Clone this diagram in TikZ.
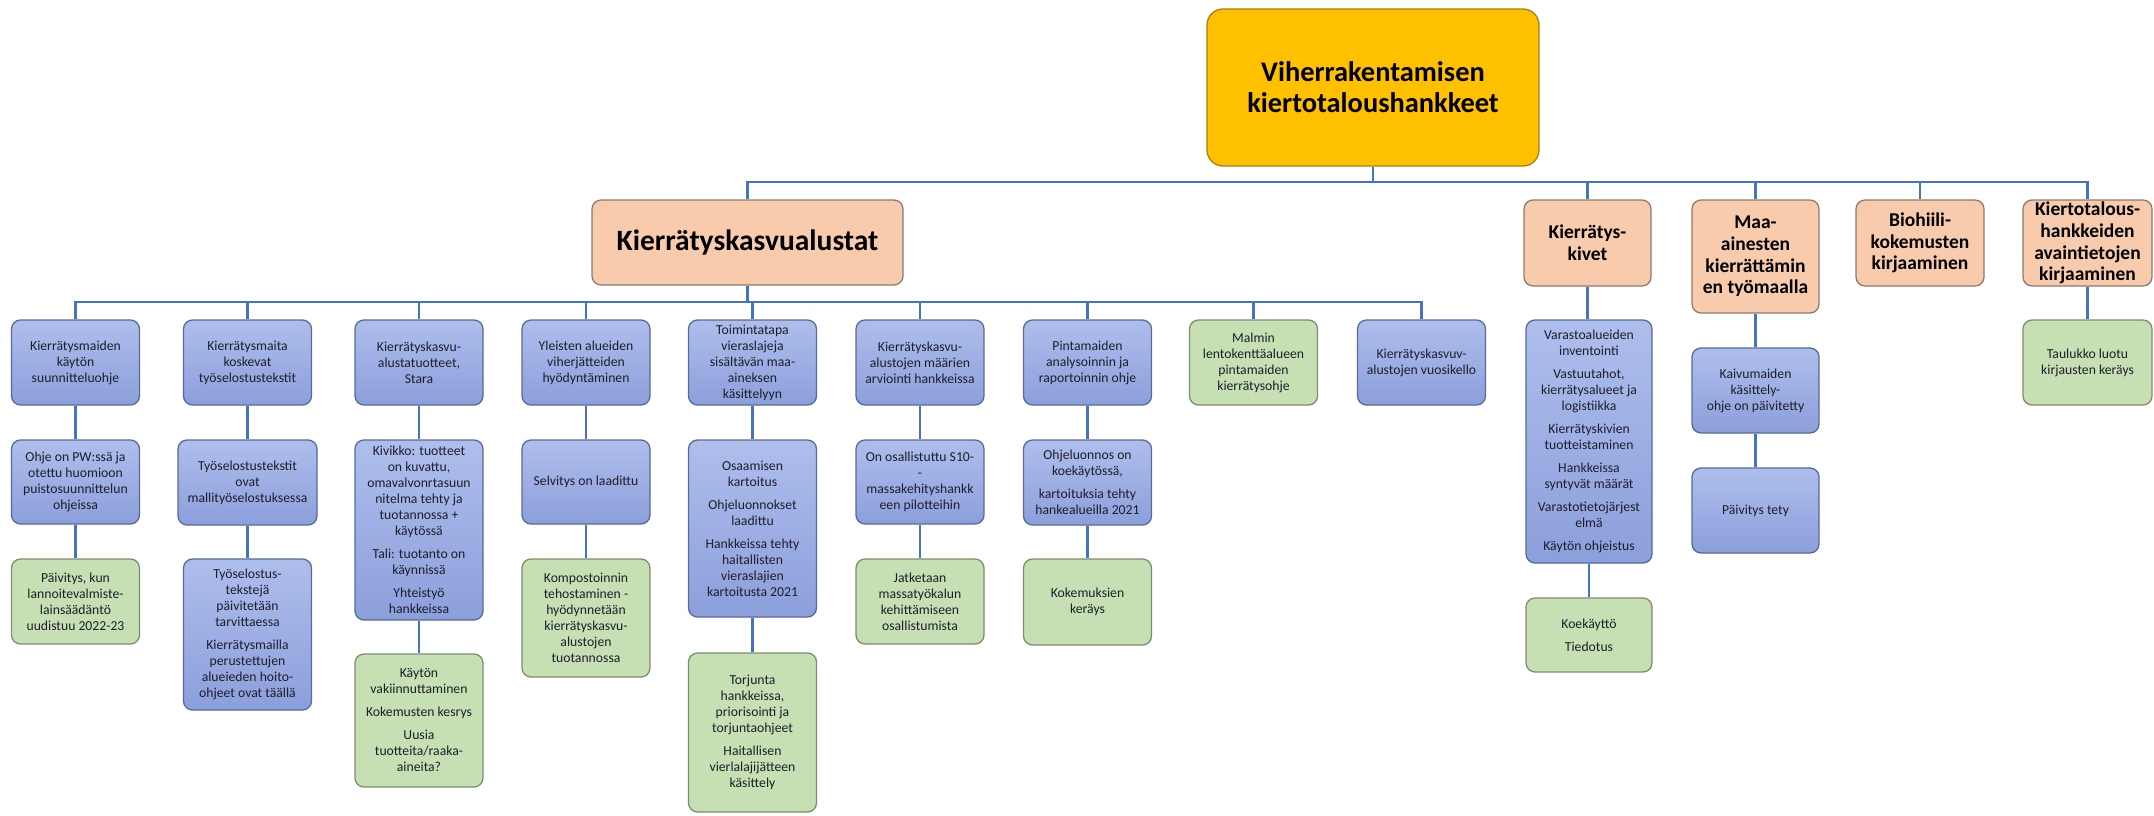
\documentclass[tikz,border=0pt]{standalone}
\usepackage{fontspec}
\setmainfont{Carlito}
\definecolor{connblue}{HTML}{4472C4}
\definecolor{bluetop}{HTML}{AEBEEC}
\definecolor{bluebot}{HTML}{8B9FDB}
\definecolor{blueborder}{HTML}{5A6A96}
\definecolor{greenfill}{HTML}{C6E0B4}
\definecolor{greenborder}{HTML}{7E8C72}
\definecolor{orangefill}{HTML}{F8CBAD}
\definecolor{orangeborder}{HTML}{8E7A6E}
\definecolor{rootfill}{HTML}{FFC000}
\definecolor{rootborder}{HTML}{A88018}
\definecolor{txt}{HTML}{1E1E2A}
\begin{document}
\begin{tikzpicture}[x=1pt,y=-1pt,
  box/.style={draw, rounded corners=9pt, line width=1.3pt, align=center, inner sep=2pt,
    font=\fontsize{13.7}{16}\selectfont, text=txt},
  wh/.style 2 args={minimum width=#1pt, minimum height=#2pt},
  bluebox/.style={box, draw=blueborder, top color=bluetop, bottom color=bluebot},
  greenbox/.style={box, draw=greenborder, fill=greenfill},
  orangebox/.style={box, draw=orangeborder, fill=orangefill, text=black, inner ysep=0pt,
    font=\bfseries\fontsize{19.5}{21.7}\selectfont},
  rootbox/.style={box, draw=rootborder, fill=rootfill, text=black, rounded corners=16pt,
    font=\bfseries\fontsize{28.4}{31}\selectfont},
  link/.style={draw=connblue, line width=2.2pt}]
\fill[white] (0,0) rectangle (2154,816);
\useasboundingbox (0,0) rectangle (2154,816);

% root and level 2
\node[rootbox, wh={332}{157}] (root) at (1373,87.5) {Viherrakentamisen\\kiertotaloushankkeet};
\node[orangebox, wh={311}{85}, font=\bfseries\fontsize{29.5}{32}\selectfont] (k1) at (747.5,242.5) {Kierrätyskasvualustat};
\node[orangebox, wh={127}{86}] (k2) at (1587.5,243) {Kierrätys-\\kivet};
\node[orangebox, wh={127}{113}] (k3) at (1755.5,256.5) {Maa-\\ainesten\\kierrättämin\\en työmaalla};
\node[orangebox, wh={128}{86}] (k4) at (1920,243) {Biohiili-\\kokemusten\\kirjaaminen};
\node[orangebox, wh={129}{86}] (k5) at (2087.5,243) {Kiertotalous-\\hankkeiden\\avaintietojen\\kirjaaminen};

\coordinate (b1) at (1373,182);
\draw[link] (root.south) -- (b1);
\draw[link] (k1.north) -- (k1.north |- b1) -- (k5.north |- b1) -- (k5.north);
\draw[link] (k2.north) -- (k2.north |- b1);
\draw[link] (k3.north) -- (k3.north |- b1);
\draw[link] (k4.north) -- (k4.north |- b1);

% level 3 row 1
\node[bluebox, wh={128}{85}] (c1a) at (75.5,362.5) {Kierrätysmaiden\\käytön\\suunnitteluohje};
\node[bluebox, wh={128}{85}] (c2a) at (247.5,362.5) {Kierrätysmaita\\koskevat\\työselostustekstit};
\node[bluebox, wh={128}{85}] (c3a) at (419,362.5) {Kierrätyskasvu-\\alustatuotteet,\\Stara};
\node[bluebox, wh={128}{85}] (c4a) at (586,362.5) {Yleisten alueiden\\viherjätteiden\\hyödyntäminen};
\node[bluebox, wh={128}{85}] (c5a) at (752.5,362.5) {Toimintatapa\\vieraslajeja\\sisältävän maa-\\aineksen\\käsittelyyn};
\node[bluebox, wh={128}{85}] (c6a) at (920,362.5) {Kierrätyskasvu-\\alustojen määrien\\arviointi hankkeissa};
\node[bluebox, wh={128}{85}] (c7a) at (1087.5,362.5) {Pintamaiden\\analysoinnin ja\\raportoinnin ohje};
\node[greenbox, wh={128}{85}] (c8a) at (1253.5,362.5) {Malmin\\lentokenttäalueen\\pintamaiden\\kierrätysohje};
\node[bluebox, wh={128}{85}] (c9a) at (1421.5,362.5) {Kierrätyskasvuv-\\alustojen vuosikello};

\coordinate (b2) at (747.5,302);
\draw[link] (k1.south) -- (b2);
\draw[link] (c1a.north) -- (c1a.north |- b2) -- (c9a.north |- b2) -- (c9a.north);
\foreach \n in {c2a,c3a,c4a,c5a,c6a,c7a,c8a}
  \draw[link] (\n.north) -- (\n.north |- b2);

% level 3 row 2
\node[bluebox, wh={128}{84}] (c1b) at (75.5,482) {Ohje on PW:ssä ja\\otettu huomioon\\puistosuunnittelun\\ohjeissa};
\node[bluebox, wh={139}{85}] (c2b) at (247.5,482.5) {Työselostustekstit\\ovat\\mallityöselostuksessa};
\node[bluebox, wh={128}{180}] (c3b) at (419,530) {Kivikko: tuotteet\\on kuvattu,\\omavalvonrtasuun\\nitelma tehty ja\\tuotannossa +\\käytössä\\[7pt]Tali: tuotanto on\\käynnissä\\[7pt]Yhteistyö\\hankkeissa};
\node[bluebox, wh={128}{84}] (c4b) at (586,482) {Selvitys on laadittu};
\node[bluebox, wh={128}{177}] (c5b) at (752.5,528.5) {Osaamisen\\kartoitus\\[7pt]Ohjeluonnokset\\laadittu\\[7pt]Hankkeissa tehty\\haitallisten\\vieraslajien\\kartoitusta 2021};
\node[bluebox, wh={128}{84}] (c6b) at (920,482) {On osallistuttu S10-\\-\\massakehityshankk\\een pilotteihin};
\node[bluebox, wh={128}{85}] (c7b) at (1087.5,482.5) {Ohjeluonnos on\\koekäytössä,\\[7pt]kartoituksia tehty\\hankealueilla 2021};

% level 3 row 3
\node[greenbox, wh={128}{85}] (c1c) at (75.5,601.5) {Päivitys, kun\\lannoitevalmiste-\\lainsäädäntö\\uudistuu 2022-23};
\node[bluebox, wh={128}{151}] (c2c) at (247.5,634.5) {Työselostus-\\tekstejä\\päivitetään\\tarvittaessa\\[7pt]Kierrätysmailla\\perustettujen\\alueieden hoito-\\ohjeet ovat täällä};
\node[greenbox, wh={128}{133}] (c3c) at (419,720.5) {Käytön\\vakiinnuttaminen\\[7pt]Kokemusten kesrys\\[7pt]Uusia\\tuotteita/raaka-\\aineita?};
\node[greenbox, wh={128}{118}] (c4c) at (586,618) {Kompostoinnin\\tehostaminen -\\hyödynnetään\\kierrätyskasvu-\\alustojen\\tuotannossa};
\node[greenbox, wh={128}{159}] (c5c) at (752.5,732.5) {Torjunta\\hankkeissa,\\priorisointi ja\\torjuntaohjeet\\[7pt]Haitallisen\\vierlalajijätteen\\käsittely};
\node[greenbox, wh={128}{85}] (c6c) at (920,601.5) {Jatketaan\\massatyökalun\\kehittämiseen\\osallistumista};
\node[greenbox, wh={128}{86}] (c7c) at (1087.5,602) {Kokemuksien\\keräys};

\foreach \n in {c1,c2,c3,c4,c5,c6,c7}{
  \draw[link] (\n a.south) -- (\n b.north);
  \draw[link] (\n b.south) -- (\n c.north);
}

% right branches
\node[bluebox, wh={126}{243}] (k2a) at (1589,441.5) {Varastoalueiden\\inventointi\\[7pt]Vastuutahot,\\kierrätysalueet ja\\logistiikka\\[7pt]Kierrätyskivien\\tuotteistaminen\\[7pt]Hankkeissa\\syntyvät määrät\\[7pt]Varastotietojärjest\\elmä\\[7pt]Käytön ohjeistus};
\node[greenbox, wh={126}{74}] (k2b) at (1589,635) {Koekäyttö\\[7pt]Tiedotus};
\node[bluebox, wh={127}{85}] (k3a) at (1755.5,390.5) {Kaivumaiden\\käsittely-\\ohje on päivitetty};
\node[bluebox, wh={127}{85}] (k3b) at (1755.5,510.5) {Päivitys tety};
\node[greenbox, wh={129}{85}] (k5a) at (2087.5,362.5) {Taulukko luotu\\kirjausten keräys};

\draw[link] (k2.south) -- (k2.south |- k2a.north);
\draw[link] (k2a.south) -- (k2a.south |- k2b.north);
\draw[link] (k3.south) -- (k3a.north);
\draw[link] (k3a.south) -- (k3b.north);
\draw[link] (k5.south) -- (k5a.north);
\end{tikzpicture}
\end{document}
